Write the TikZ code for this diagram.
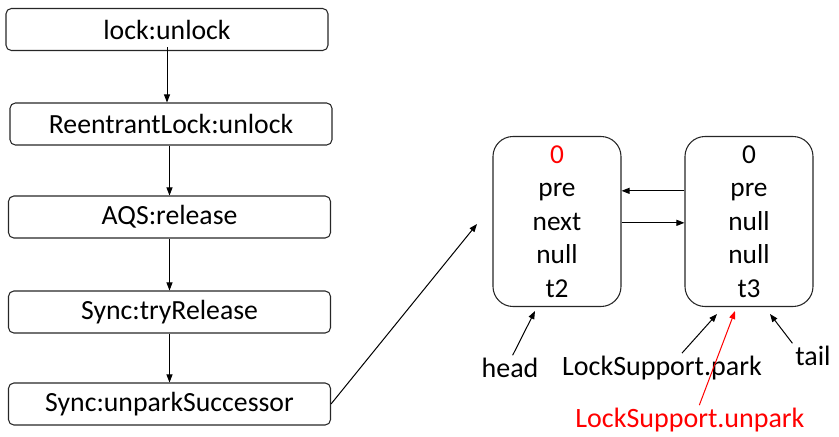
\documentclass[tikz,border=0pt]{standalone}
\usepackage{fontspec}
\setmainfont{Carlito}
\usetikzlibrary{arrows.meta}

\tikzset{
  callbox/.style={draw=black!85, line width=0.8pt, rounded corners=4pt, minimum width=241.5pt, minimum height=31.5pt, inner sep=0pt, font=\fontsize{20.8}{24}\selectfont},
  nodebox/.style={draw=black!85, line width=0.8pt, rounded corners=15pt, minimum width=96pt, minimum height=127.5pt, align=center, inner sep=0pt, font=\fontsize{20.5}{25.1}\selectfont},
  lbl/.style={font=\fontsize{21}{25}\selectfont, inner sep=2pt},
  arr/.style={-{Triangle[length=6pt,width=4.5pt]}, line width=0.75pt}
}

\begin{document}
\begin{tikzpicture}[x=0.75pt,y=0.75pt,yscale=-1,xscale=1]
        \path[use as bounding box] (0,0) rectangle (839,436);

        % call chain
        \node[callbox] (lockunlock) at (167,29.5) {lock:unlock};
        \node[callbox] (reentrant) at (171,124) {ReentrantLock:unlock};
        \node[callbox] (aqsrelease) at (169.5,217) {AQS:release};
        \node[callbox] (tryrelease) at (169.5,312) {Sync:tryRelease};
        \node[callbox] (unparksucc) at (169.5,404) {Sync:unparkSuccessor};

        \draw[arr] ([yshift=-3pt]lockunlock.south) -- (lockunlock.south |- reentrant.north);
        \draw[arr] (reentrant.south -| 169.5,0) -- (aqsrelease.north);
        \draw[arr] (aqsrelease.south) -- (tryrelease.north);
        \draw[arr] (tryrelease.south) -- (unparksucc.north);

        % queue nodes
        \node[nodebox] (t2node) at (557,221.5) {\textcolor{red}{0}\\pre\\next\\null\\t2};
        \node[nodebox] (t3node) at (749,221.5) {0\\pre\\null\\null\\t3};

        \draw[arr] ([yshift=-23pt]t3node.west) -- ([yshift=-23pt]t2node.east);
        \draw[arr] ([yshift=1pt]t2node.east) -- ([yshift=1pt]t3node.west);

        \coordinate (nodetip) at (477,224);
        \draw[arr] (unparksucc.east) -- (nodetip);

        % labels under the queue
        \node[lbl] (head) at (510,368) {head};
        \node[lbl] (park) at (662,368) {LockSupport.park};
        \node[lbl] (tail) at (813,356) {tail};
        \node[lbl, text=red] (unparklbl) at (690,420) {LockSupport.unpark};

        \coordinate (headtip) at (535,311);
        \coordinate (parktip) at (717,314);
        \coordinate (unparktip) at (735,311);
        \coordinate (tailtip) at (770,314);

        \draw[arr] ([xshift=2pt]head.north) -- (headtip);
        \draw[arr] ([xshift=15pt]park.north) -- (parktip);
        \draw[arr] (tail.north west) -- (tailtip);
        \draw[arr, red] ([xshift=7pt]unparklbl.north) -- (unparktip);

\end{tikzpicture}
\end{document}
